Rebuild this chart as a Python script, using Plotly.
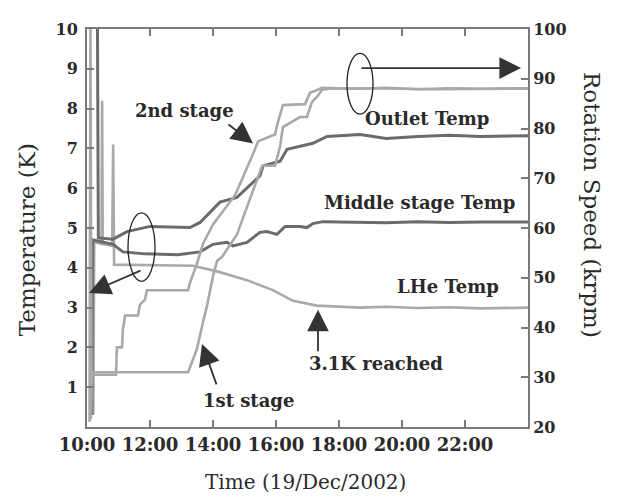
import plotly.graph_objects as go

# ---------------- data (time in hours of 19/Dec/2002) ----------------
# Rotation speed, 2nd stage (krpm, right axis)
t_2nd = [10.08, 10.11, 10.14, 10.92, 10.95, 11.11, 11.14, 11.21, 11.62, 11.68, 11.84, 11.90,
         13.21, 13.27, 13.49, 13.68, 14.00, 14.70, 15.24, 15.43, 15.65, 15.97, 16.06, 16.22,
         16.92, 17.08, 17.33, 17.46, 18.5, 19.5, 20.5, 21.5, 22.5, 24.0]
v_2nd = [21.0, 100.0, 30.5, 30.5, 36.0, 36.0, 39.7, 42.4, 42.4, 44.6, 45.6, 47.5,
         47.5, 49.0, 52.8, 56.8, 60.7, 66.6, 74.4, 77.4, 78.0, 78.8, 81.3, 84.7,
         84.9, 87.2, 87.8, 88.2, 88.0, 88.2, 87.9, 88.1, 88.0, 88.1]

# Rotation speed, 1st stage (krpm, right axis)
t_1st = [10.12, 10.16, 13.21, 13.49, 13.68, 13.81, 14.00, 14.13, 14.29, 14.76, 15.02, 15.40,
         15.56, 15.97, 16.13, 16.22, 16.76, 16.98, 17.14, 17.33, 17.46, 17.7, 19.0, 21.0, 24.0]
v_1st = [21.5, 31.0, 31.0, 35.7, 41.0, 44.4, 50.3, 53.4, 54.2, 58.7, 63.2, 69.9,
         72.5, 72.5, 76.4, 80.3, 82.3, 82.3, 85.3, 86.6, 87.8, 88.0, 88.1, 87.9, 88.0]

# Outlet Temp (K, left axis)
t_out = [10.33, 10.36, 10.83, 11.27, 12.00, 13.27, 13.59, 14.22, 14.76, 15.49, 15.59, 16.13,
         16.35, 17.17, 17.62, 18.67, 19.5, 20.5, 21.5, 22.5, 24.0]
v_out = [10.5, 4.75, 4.72, 4.91, 5.04, 5.01, 5.14, 5.65, 5.77, 6.31, 6.56, 6.68,
         6.98, 7.13, 7.30, 7.35, 7.25, 7.30, 7.33, 7.30, 7.32]

# Middle stage Temp (K, left axis)
t_mid = [10.15, 10.18, 10.83, 11.14, 11.84, 12.88, 13.59, 14.00, 14.44, 14.63, 15.08, 15.49,
         15.71, 16.03, 16.29, 16.76, 16.98, 17.17, 17.49, 18.5, 19.5, 20.5, 21.5, 22.5, 24.0]
v_mid = [0.3, 4.70, 4.59, 4.40, 4.35, 4.33, 4.40, 4.59, 4.64, 4.55, 4.64, 4.89,
         4.91, 4.84, 5.04, 5.04, 5.01, 5.11, 5.16, 5.15, 5.13, 5.16, 5.14, 5.15, 5.15]

# LHe Temp (K, left axis)
t_lhe = [10.20, 10.23, 10.46, 10.48, 10.50, 10.80, 10.83, 10.86, 13.37, 14.13, 15.08, 15.90,
         16.54, 17.30, 18.67, 19.5, 20.5, 21.5, 22.5, 24.0]
v_lhe = [0.3, 4.65, 4.60, 8.2, 4.60, 4.55, 7.1, 4.08, 4.05, 3.91, 3.69, 3.44,
         3.17, 3.05, 3.00, 3.02, 2.99, 3.01, 2.98, 3.00]

x_tickvals = [10, 12, 14, 16, 18, 20, 22]
x_ticktext = ["10:00", "12:00", "14:00", "16:00", "18:00", "20:00", "22:00"]
y_tickvals = [1, 2, 3, 4, 5, 6, 7, 8, 9, 10]
y2_tickvals = [20, 30, 40, 50, 60, 70, 80, 90, 100]

# ---------------- figure ----------------
LIGHT = "#a9a9a9"
DARK = "#6b6b6b"
AX = "#7a7a7a"
TXT = "#2a2a2a"
FONT = "DejaVu Serif"

fig = go.Figure()
fig.add_trace(go.Scatter(x=t_2nd, y=v_2nd, yaxis="y2", mode="lines",
                         line=dict(color=LIGHT, width=2.6), name="2nd stage"))
fig.add_trace(go.Scatter(x=t_1st, y=v_1st, yaxis="y2", mode="lines",
                         line=dict(color=LIGHT, width=2.6), name="1st stage"))
fig.add_trace(go.Scatter(x=t_lhe, y=v_lhe, mode="lines",
                         line=dict(color=LIGHT, width=2.6), name="LHe Temp"))
fig.add_trace(go.Scatter(x=t_mid, y=v_mid, mode="lines",
                         line=dict(color=DARK, width=3), name="Middle stage Temp"))
fig.add_trace(go.Scatter(x=t_out, y=v_out, mode="lines",
                         line=dict(color=DARK, width=3), name="Outlet Temp"))

# page has an 8px body margin: figure occupies page pixels 8..617 x 8..498
OFF = 8
L, R, T, B = 87, 528, 20, 427
W, H = R - L, B - T


def px(x):
    return (x - L) / W


def py(y):
    return (B - y) / H


annotations = []
# text labels
for txt, cx, cy in [("2nd stage", 184, 103), ("Outlet Temp", 427, 112),
                    ("Middle stage Temp", 419, 197), ("LHe Temp", 448, 283),
                    ("3.1K reached", 376, 362), ("1st stage", 248, 400)]:
    annotations.append(dict(text=txt, x=px(cx), y=py(cy), xref="paper", yref="paper",
                            showarrow=False, xanchor="center", yanchor="middle",
                            font=dict(family=FONT, size=18, color=TXT, weight="bold")))
# arrows (tip, tail)
for tip, tail in [((253, 137), (227, 117)), ((318, 307), (318, 350)),
                  ((202, 342), (217, 384)), ((89, 290), (142, 267)),
                  ((521, 60), (360, 60))]:
    annotations.append(dict(text="", x=px(tip[0]), y=py(tip[1]), xref="paper", yref="paper",
                            ax=tail[0] - tip[0], ay=tail[1] - tip[1], axref="pixel", ayref="pixel",
                            showarrow=True, arrowhead=2, arrowsize=2.4, arrowwidth=1.8,
                            arrowcolor="#333333"))
# axis titles
annotations.append(dict(text="Temperature (K)", x=px(27), y=py(236), xref="paper", yref="paper",
                        showarrow=False, textangle=-90, xanchor="center", yanchor="middle",
                        font=dict(family=FONT, size=23, color=TXT)))
annotations.append(dict(text="Rotation Speed (krpm)", x=px(592), y=py(200), xref="paper", yref="paper",
                        showarrow=False, textangle=90, xanchor="center", yanchor="middle",
                        font=dict(family=FONT, size=23, color=TXT)))
annotations.append(dict(text="Time (19/Dec/2002)", x=px(305), y=py(483), xref="paper", yref="paper",
                        showarrow=False, xanchor="center", yanchor="middle",
                        font=dict(family=FONT, size=20, color=TXT)))

shapes = [
    dict(type="circle", xref="paper", yref="paper", x0=px(128), x1=px(155), y0=py(278), y1=py(208),
         line=dict(color="#222222", width=1.3)),
    dict(type="circle", xref="paper", yref="paper", x0=px(347), x1=px(373), y0=py(107), y1=py(45),
         line=dict(color="#222222", width=1.3)),
]

tickfont = dict(family=FONT, size=16, color=TXT, weight="bold")
xtickfont = dict(family=FONT, size=18, color=TXT, weight="bold")
fig.update_layout(
    width=617 - OFF, height=498 - OFF,
    margin=dict(l=L - OFF, r=617 - R, t=T - OFF, b=498 - B),
    paper_bgcolor="white", plot_bgcolor="white",
    showlegend=False,
    annotations=annotations, shapes=shapes,
    xaxis=dict(range=[10, 24], tickvals=x_tickvals, ticktext=x_ticktext, showgrid=False,
               zeroline=False, showline=True, linecolor=AX, linewidth=2, mirror="ticks",
               ticks="inside", ticklen=7, tickwidth=1.5, tickcolor=AX, tickfont=xtickfont),
    yaxis=dict(range=[0, 10], tickvals=y_tickvals, showgrid=False, zeroline=False,
               showline=True, linecolor=AX, linewidth=2, ticks="inside", ticklen=7,
               tickwidth=1.5, tickcolor=AX, tickfont=tickfont, ticklabelstandoff=4),
    yaxis2=dict(range=[20, 100], tickvals=y2_tickvals, overlaying="y", side="right",
                showgrid=False, zeroline=False, showline=True, linecolor=AX, linewidth=2,
                ticks="inside", ticklen=7, tickwidth=1.5, tickcolor=AX, tickfont=tickfont),
)

fig.write_html("out.html")
